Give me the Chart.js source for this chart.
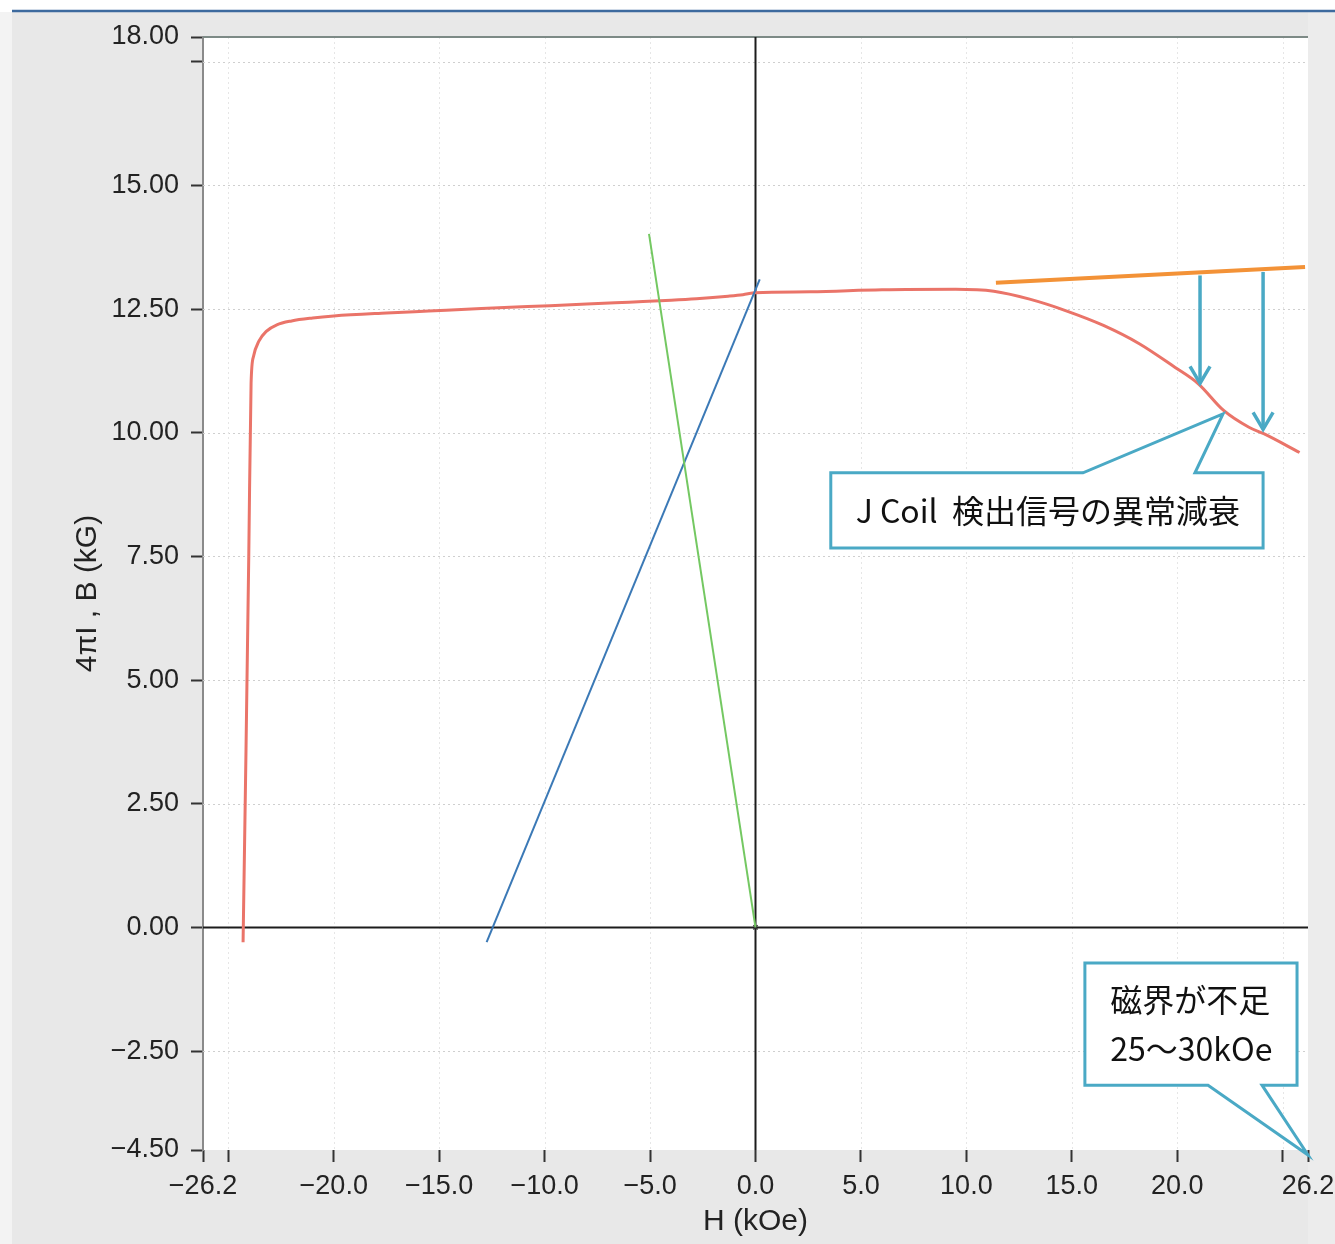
<!DOCTYPE html>
<html lang="ja">
<head>
<meta charset="utf-8">
<title>4πI, B – H 減磁曲線</title>
<script src="https://cdn.jsdelivr.net/npm/chart.js@4.4.1/dist/chart.umd.min.js"></script>
<style>
  html, body { margin: 0; padding: 0; background: #ffffff; }
  #wrap { width: 1335px; height: 1244px; position: relative; }
  canvas { display: block; }
</style>
</head>
<body>
<div id="wrap"><canvas id="chart" width="1335" height="1244"></canvas></div>
<script>
// ---- measured curve: 4πI (kG) against H (kOe) ----
const curveH = [-24.30, -24.16, -24.03, -23.92, -23.80, -23.55, -23.20, -22.70, -22.00, -21.00,
                -20.00, -17.50, -15.50, -13.00, -10.80, -8.00, -6.00, -4.00, -2.80, -1.30,
                -0.60, 0.00, 2.60, 6.00, 9.50, 11.30, 13.00, 14.70, 16.50, 18.20,
                19.90, 21.00, 22.20, 23.40, 24.10, 25.80];
const curveI = [-0.30, 3.60, 7.50, 11.00, 11.55, 11.85, 12.05, 12.18, 12.26, 12.32,
                12.36, 12.42, 12.46, 12.51, 12.55, 12.60, 12.64, 12.68, 12.71, 12.76,
                12.79, 12.83, 12.85, 12.89, 12.90, 12.86, 12.70, 12.47, 12.17, 11.80,
                11.32, 10.99, 10.45, 10.11, 9.98, 9.60];

// ---- straight lines ----
const blueH   = [-12.75, 0.20];
const blueB   = [-0.30, 13.10];
const greenH  = [-5.05, 0.00];
const greenB  = [14.02, 0.00];
const refH    = [11.40, 26.06];   // extrapolated saturation level
const refB    = [13.03, 13.35];
const originH = [0];
const originB = [0];

// ---- attenuation arrows (H, from, to) ----
const arrowH    = [21.08, 24.07];
const arrowFrom = [13.18, 13.25];
const arrowTo   = [11.00, 10.07];

// ---- axis ticks ----
const xTickValues = [-26.2, -25, -20, -15, -10, -5, 0, 5, 10, 15, 20, 25, 26.2];
const xTickLabels = ['−26.2', '', '−20.0', '−15.0', '−10.0', '−5.0', '0.0', '5.0', '10.0', '15.0', '20.0', '', '26.2'];
const yTickValues = [-4.5, -2.5, 0, 2.5, 5, 7.5, 10, 12.5, 15, 17.5, 18];
const yTickLabels = ['−4.50', '−2.50', '0.00', '2.50', '5.00', '7.50', '10.00', '12.50', '15.00', '', '18.00'];

const SANS = '"Liberation Sans", Arial, sans-serif';
const JP = '"Noto Sans CJK JP", "Noto Sans", sans-serif';
const TEAL = '#4aa9c5';

function pts(xs, ys) { return xs.map((x, i) => ({ x: x, y: ys[i] })); }

// callouts, placed in data units (H, 4πI)
const callouts = [
  {
    box: { x0: 3.57, x1: 24.07, y0: 9.19, y1: 7.67 },
    tail: { side: 'top', a: 15.53, b: 20.84, tipX: 22.17, tipY: 10.38 },
    lines: [{ text: 'J Coil  検出信号の異常減衰', x: 4.75, y: 8.43 }]
  },
  {
    box: { x0: 15.62, x1: 25.68, y0: -0.72, y1: -3.19 },
    tail: { side: 'bottom', a: 21.46, b: 24.02, tipX: 26.2, tipY: -4.6 },
    lines: [{ text: '磁界が不足', x: 16.82, y: -1.47 },
            { text: '25〜30kOe', x: 16.82, y: -2.46 }]
  }
];

const decorPlugin = {
  id: 'decor',
  beforeDraw(chart) {
    const { ctx, chartArea: a, width, height } = chart;
    ctx.save();
    ctx.fillStyle = '#ffffff';
    ctx.fillRect(0, 0, width, height);
    ctx.fillStyle = '#e8e8e8';
    ctx.fillRect(12, 12, width - 12, height - 12);
    ctx.fillStyle = '#f3f3f3';
    ctx.fillRect(0, 12, 12, height - 12);
    ctx.fillStyle = '#ececec';
    ctx.fillRect(a.right, 12, width - a.right, height - 12);
    ctx.strokeStyle = '#3d6a9e';
    ctx.lineWidth = 2.5;
    ctx.beginPath(); ctx.moveTo(12, 11); ctx.lineTo(width, 11); ctx.stroke();
    ctx.fillStyle = '#ffffff';
    ctx.fillRect(a.left, a.top, a.right - a.left, a.bottom - a.top);
    ctx.restore();
  },
  beforeDatasetsDraw(chart) {
    const { ctx, chartArea: a, scales: { x, y } } = chart;
    ctx.save();
    ctx.lineWidth = 1;
    ctx.setLineDash([2, 3]);
    ctx.strokeStyle = '#cfcfcf';
    yTickValues.forEach(v => {
      if (v === 0 || v === yTickValues[0] || v === yTickValues[yTickValues.length - 1]) return;
      const py = Math.round(y.getPixelForValue(v)) + 0.5;
      ctx.beginPath(); ctx.moveTo(a.left, py); ctx.lineTo(a.right, py); ctx.stroke();
    });
    ctx.strokeStyle = '#e6e6e6';
    xTickValues.forEach(v => {
      if (v === 0 || v === xTickValues[0] || v === xTickValues[xTickValues.length - 1]) return;
      const px = Math.round(x.getPixelForValue(v)) + 0.5;
      ctx.beginPath(); ctx.moveTo(px, a.top); ctx.lineTo(px, a.bottom); ctx.stroke();
    });
    ctx.setLineDash([]);
    // frame top edge
    ctx.strokeStyle = '#7d8a86';
    ctx.lineWidth = 2;
    ctx.beginPath(); ctx.moveTo(a.left, a.top); ctx.lineTo(a.right, a.top); ctx.stroke();
    // zero axes
    ctx.strokeStyle = '#1c1c1c';
    ctx.lineWidth = 2;
    const y0 = y.getPixelForValue(0), x0 = x.getPixelForValue(0);
    ctx.beginPath(); ctx.moveTo(a.left, y0); ctx.lineTo(a.right, y0); ctx.stroke();
    ctx.beginPath(); ctx.moveTo(x0, a.top); ctx.lineTo(x0, a.bottom); ctx.stroke();
    ctx.restore();
  },
  afterDatasetsDraw(chart) {
    const { ctx, scales: { x, y } } = chart;
    ctx.save();
    // arrows
    ctx.strokeStyle = TEAL;
    ctx.lineWidth = 3.5;
    ctx.lineCap = 'butt';
    arrowH.forEach((h, i) => {
      const px = x.getPixelForValue(h);
      const p1 = y.getPixelForValue(arrowFrom[i]);
      const p2 = y.getPixelForValue(arrowTo[i]);
      ctx.beginPath(); ctx.moveTo(px, p1); ctx.lineTo(px, p2); ctx.stroke();
      ctx.beginPath();
      ctx.moveTo(px - 10, p2 - 17); ctx.lineTo(px, p2); ctx.lineTo(px + 10, p2 - 17);
      ctx.stroke();
    });
    // callouts
    callouts.forEach(c => {
      const L = x.getPixelForValue(c.box.x0), R = x.getPixelForValue(c.box.x1);
      const T = y.getPixelForValue(c.box.y0), B = y.getPixelForValue(c.box.y1);
      const ta = x.getPixelForValue(c.tail.a), tb = x.getPixelForValue(c.tail.b);
      const tx = x.getPixelForValue(c.tail.tipX), ty = y.getPixelForValue(c.tail.tipY);
      ctx.beginPath();
      if (c.tail.side === 'top') {
        ctx.moveTo(L, T); ctx.lineTo(ta, T); ctx.lineTo(tx, ty); ctx.lineTo(tb, T);
        ctx.lineTo(R, T); ctx.lineTo(R, B); ctx.lineTo(L, B);
      } else {
        ctx.moveTo(L, T); ctx.lineTo(R, T); ctx.lineTo(R, B); ctx.lineTo(tb, B);
        ctx.lineTo(tx, ty); ctx.lineTo(ta, B); ctx.lineTo(L, B);
      }
      ctx.closePath();
      ctx.fillStyle = '#ffffff';
      ctx.fill();
      ctx.strokeStyle = TEAL;
      ctx.lineWidth = 3;
      ctx.lineJoin = 'miter';
      ctx.stroke();
      ctx.fillStyle = '#111111';
      ctx.font = '32px ' + JP;
      ctx.textBaseline = 'middle';
      ctx.textAlign = 'left';
      c.lines.forEach(l => {
        ctx.fillText(l.text, x.getPixelForValue(l.x), y.getPixelForValue(l.y));
      });
    });
    ctx.restore();
  }
};

new Chart(document.getElementById('chart'), {
  type: 'scatter',
  data: {
    datasets: [
      { label: 'green', data: pts(greenH, greenB), showLine: true, borderColor: '#74c862',
        borderWidth: 2, pointRadius: 0 },
      { label: 'blue', data: pts(blueH, blueB), showLine: true, borderColor: '#3b79b6',
        borderWidth: 2, pointRadius: 0 },
      { label: '4πI', data: pts(curveH, curveI), showLine: true, borderColor: '#ea7469',
        borderWidth: 3, pointRadius: 0, cubicInterpolationMode: 'monotone' },
      { label: 'ref', data: pts(refH, refB), showLine: true, borderColor: '#f39237',
        borderWidth: 4, pointRadius: 0 },
      { label: 'origin', data: pts(originH, originB), showLine: false, pointStyle: 'crossRot',
        pointRadius: 3, borderColor: '#333333', borderWidth: 1.5 }
    ]
  },
  options: {
    responsive: false,
    animation: false,
    events: [],
    layout: { padding: { top: 37, right: 27, left: 0, bottom: 0 } },
    plugins: { legend: { display: false }, tooltip: { enabled: false } },
    scales: {
      x: {
        type: 'linear', min: -26.2, max: 26.2,
        afterBuildTicks(scale) { scale.ticks = xTickValues.map(v => ({ value: v })); },
        afterFit(scale) { scale.height = 94; scale.paddingLeft = 0; scale.paddingRight = 0; },
        ticks: {
          autoSkip: false, maxRotation: 0, padding: 8, color: '#222',
          font: { family: SANS, size: 27 },
          callback: (v, i) => xTickLabels[i]
        },
        grid: { drawOnChartArea: false, tickLength: 12, tickWidth: 2, tickColor: '#333' },
        border: { display: false },
        title: { display: true, text: 'H (kOe)', color: '#222', padding: { top: 0, bottom: 4 },
                 font: { family: SANS, size: 30 } }
      },
      y: {
        type: 'linear', min: -4.5, max: 18,
        afterBuildTicks(scale) { scale.ticks = yTickValues.map(v => ({ value: v })); },
        afterFit(scale) { scale.width = 203; scale.paddingTop = 0; scale.paddingBottom = 0; },
        ticks: {
          autoSkip: false, padding: 12, color: '#222',
          font: { family: SANS, size: 27 },
          callback: (v, i) => yTickLabels[i]
        },
        grid: { drawOnChartArea: false, tickLength: 12, tickWidth: 2, tickColor: '#333' },
        border: { display: true, color: '#8a8a8a', width: 2 },
        title: { display: true, text: '4πI , B (kG)', color: '#222', padding: { top: 70, bottom: 0 },
                 font: { family: SANS, size: 30 } }
      }
    }
  },
  plugins: [decorPlugin]
});
</script>
</body>
</html>
